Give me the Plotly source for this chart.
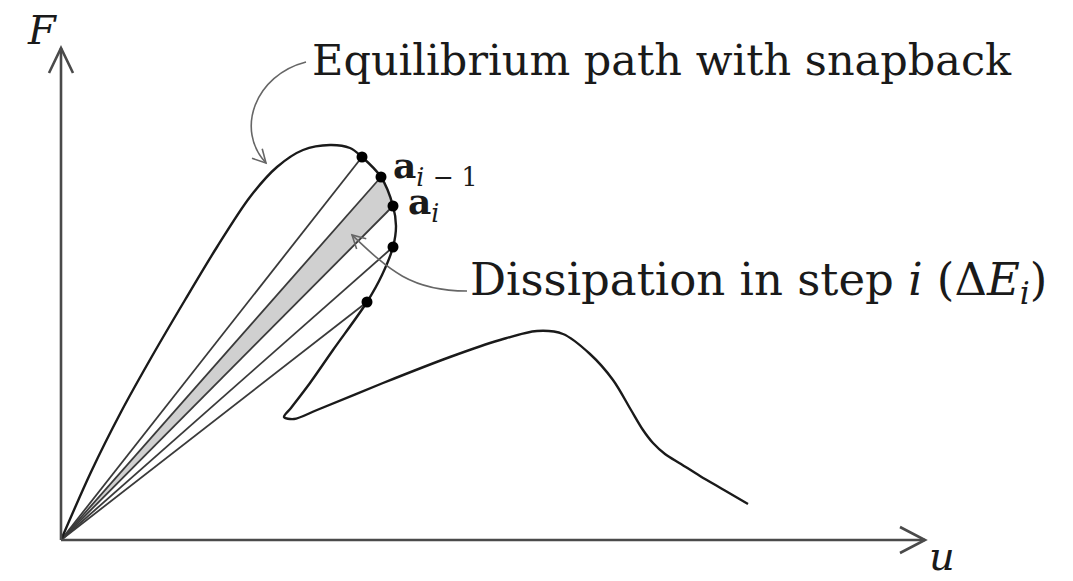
import math
import plotly.graph_objects as go

# Equilibrium path (displacement u, force F) with a snapback branch
path_u = [0, 30, 60, 90, 124, 156, 189, 216, 242, 269, 289, 301, 320, 332, 335, 332,
          321, 306, 272, 249, 230, 223, 233, 256, 322, 389, 439, 476, 502, 529, 552, 570,
          582, 592, 604, 620, 639, 663, 687]
path_F = [0, 68, 128, 182, 240, 293, 343, 373, 390, 395, 392, 383, 363, 334, 314, 293,
          265, 238, 190, 157, 132, 123, 121, 130, 157, 183, 200, 209, 206, 186, 160, 130,
          110, 97, 86, 76, 64, 50, 36]

# Converged states marked on the snapback branch (a_{i-1} is index 1, a_i is index 2)
state_u = [301, 320, 332, 332, 306]
state_F = [383, 363, 334, 293, 238]
prev_idx, cur_idx = 1, 2

# Axis extents
u_max, F_max = 864, 492

INK = "#1a1a1a"
RAY = "#3a3a3a"
AXIS = "#4a4a4a"
NOTE = "#666666"
FONT = "DejaVu Serif"

fig = go.Figure()

# Dissipated energy in step i: triangle origin - a_{i-1} - a_i
fig.add_trace(go.Scatter(
    x=[0, state_u[prev_idx], state_u[cur_idx], 0],
    y=[0, state_F[prev_idx], state_F[cur_idx], 0],
    mode="lines", fill="toself", fillcolor="#d0d0d0",
    line=dict(width=0), hoverinfo="skip", showlegend=False))

# Secant rays from the origin to each state
for su, sf in zip(state_u, state_F):
    fig.add_trace(go.Scatter(x=[0, su], y=[0, sf], mode="lines",
                             line=dict(color=RAY, width=1.8),
                             hoverinfo="skip", showlegend=False))

# Equilibrium path
fig.add_trace(go.Scatter(x=path_u, y=path_F, mode="lines",
                         line=dict(color=INK, width=2.4, shape="spline", smoothing=0.9),
                         hoverinfo="skip", showlegend=False))

# States
fig.add_trace(go.Scatter(x=state_u, y=state_F, mode="markers",
                         marker=dict(color="black", size=11),
                         hoverinfo="skip", showlegend=False))


def chevron(tip, direction, length, half):
    dx, dy = direction
    n = math.hypot(dx, dy)
    dx, dy = dx / n, dy / n
    bx, by = tip[0] - dx * length, tip[1] - dy * length
    px, py = -dy, dx
    return (f"M {bx + px * half},{by + py * half} L {tip[0]},{tip[1]} "
            f"L {bx - px * half},{by - py * half}")


shapes = []
# Axes with open arrow tips
shapes.append(dict(type="line", x0=0, y0=0, x1=u_max, y1=0,
                   line=dict(color=AXIS, width=2.6)))
shapes.append(dict(type="line", x0=0, y0=0, x1=0, y1=F_max,
                   line=dict(color=AXIS, width=2.6)))
shapes.append(dict(type="path", path=chevron((u_max, 0), (1, 0), 25, 13),
                   line=dict(color=AXIS, width=2.6)))
shapes.append(dict(type="path", path=chevron((0, F_max), (0, 1), 25, 12),
                   line=dict(color=AXIS, width=2.6)))

# Curved leader to the equilibrium path
p0, p1, p2, p3 = (245, 478), (194, 465), (174, 410), (205, 377)
shapes.append(dict(type="path",
                   path=f"M {p0[0]},{p0[1]} C {p1[0]},{p1[1]} {p2[0]},{p2[1]} {p3[0]},{p3[1]}",
                   line=dict(color=NOTE, width=1.6)))
shapes.append(dict(type="path", path=chevron(p3, (p3[0] - p2[0], p3[1] - p2[1]), 13, 7),
                   line=dict(color=NOTE, width=1.6)))

# Curved leader to the dissipation area
q0, q1, q2, q3 = (406, 249), (350, 249), (328, 270), (291, 305)
shapes.append(dict(type="path",
                   path=f"M {q0[0]},{q0[1]} C {q1[0]},{q1[1]} {q2[0]},{q2[1]} {q3[0]},{q3[1]}",
                   line=dict(color=NOTE, width=1.6)))
shapes.append(dict(type="path", path=chevron(q3, (q3[0] - q2[0], q3[1] - q2[1]), 13, 7),
                   line=dict(color=NOTE, width=1.6)))

annotations = [
    dict(x=249, y=480, text="Equilibrium path with snapback", xanchor="left", yanchor="middle",
         showarrow=False, font=dict(family=FONT, size=43, color=INK)),
    dict(x=407, y=258, text="Dissipation in step <i>i</i> (Δ<i>E</i><sub><i>i</i></sub>)",
         xanchor="left", yanchor="middle", showarrow=False,
         font=dict(family=FONT, size=45, color=INK)),
    dict(x=330, y=372, text="<b>a</b><sub><i>i</i> − 1</sub>", xanchor="left", yanchor="middle",
         showarrow=False, font=dict(family=FONT, size=36, color=INK)),
    dict(x=345, y=336, text="<b>a</b><sub><i>i</i></sub>", xanchor="left", yanchor="middle",
         showarrow=False, font=dict(family=FONT, size=36, color=INK)),
    dict(x=-19, y=510, text="<i>F</i>", xanchor="center", yanchor="middle",
         showarrow=False, font=dict(family=FONT, size=40, color=INK)),
    dict(x=881, y=-41, text="<i>u</i>", xanchor="center", yanchor="bottom",
         showarrow=False, font=dict(family=FONT, size=40, color=INK)),
]

fig.update_layout(
    width=1073, height=581,
    margin=dict(l=0, r=0, t=0, b=0),
    paper_bgcolor="white", plot_bgcolor="white",
    xaxis=dict(range=[-61, 1012], visible=False, fixedrange=True),
    yaxis=dict(range=[-41, 540], visible=False, fixedrange=True),
    shapes=shapes, annotations=annotations, showlegend=False,
)

fig.write_html("out.html")
